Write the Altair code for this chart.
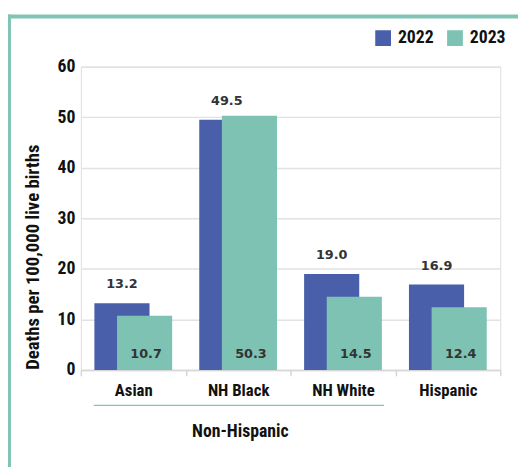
import altair as alt
import pandas as pd

categories = ["Asian", "NH Black", "NH White", "Hispanic"]
years = ["2022", "2023"]
values_2022 = [13.2, 49.5, 19.0, 16.9]
values_2023 = [10.7, 50.3, 14.5, 12.4]
y_ticks = [0, 10, 20, 30, 40, 50, 60]
colors = ["#4a5fa9", "#7dc2b2"]
frame_color = "#80c4b6"
group_label = "Non-Hispanic"
y_title = "Deaths per 100,000 live births"

rows = []
for c, a, b in zip(categories, values_2022, values_2023):
    rows.append({"category": c, "year": "2022", "value": a, "label": f"{a:.1f}"})
    rows.append({"category": c, "year": "2023", "value": b, "label": f"{b:.1f}"})
df = pd.DataFrame(rows)
one = pd.DataFrame({"t": [group_label]})

FC = "Roboto Condensed"
VAL_FONT = "DejaVu Sans"

x_enc = alt.X("category:N", sort=categories,
              scale=alt.Scale(paddingInner=0, paddingOuter=0),
              axis=alt.Axis(title=None, labelAngle=0, labelFont=FC, labelFontSize=17,
                            labelFontWeight="bold", labelColor="#111", labelPadding=7,
                            tickBand="extent", tickColor="#d6d6d6", tickSize=6, tickWidth=1.5,
                            domainColor="#d6d6d6", domainWidth=1.5))
y_enc = alt.Y("value:Q", scale=alt.Scale(domain=[0, 60], nice=False),
              axis=alt.Axis(values=y_ticks, title=y_title, titleFont=FC, titleFontSize=19,
                            titleFontWeight="bold", titleColor="#111", titlePadding=15,
                            titleY=193,
                            labelFont=FC, labelFontSize=18, labelFontWeight="bold",
                            labelColor="#111", labelPadding=6, ticks=False, domain=False,
                            grid=True, gridColor="#e2e2e2", gridWidth=1.5))
color_enc = alt.Color("year:N", scale=alt.Scale(domain=years, range=colors),
                      legend=alt.Legend(title=None, orient="none", legendX=298, legendY=-38,
                                        direction="horizontal", symbolType="square",
                                        symbolSize=256, symbolStrokeWidth=0, symbolOpacity=1,
                                        labelFont=FC, labelFontSize=18, labelFontWeight="bold",
                                        labelColor="#111", labelOffset=6, columnPadding=12))

base = alt.Chart(df)
single = alt.Chart(one)

bars22 = base.transform_filter(alt.datum.year == "2022").mark_bar(
    xOffset=-11.5, width=56).encode(x=x_enc, y=y_enc, color=color_enc)
bars23 = base.transform_filter(alt.datum.year == "2023").mark_bar(
    xOffset=11.5, width=56).encode(x=x_enc, y=y_enc, color=color_enc)

lab22 = base.transform_filter(alt.datum.year == "2022").mark_text(
    xOffset=-11.5, dy=-19, baseline="middle", font=VAL_FONT, fontSize=13,
    fontWeight="bold", color="#333").encode(x=alt.X("category:N", sort=categories),
                                             y="value:Q", text="label:N")
lab23 = base.transform_filter(alt.datum.year == "2023").mark_text(
    xOffset=13, dy=-16, baseline="middle", font=VAL_FONT, fontSize=13,
    fontWeight="bold", color="#333").encode(x=alt.X("category:N", sort=categories),
                                             y=alt.datum(0), text="label:N")

bracket = single.mark_rule(color=frame_color, strokeWidth=1.5).encode(
    x=alt.value(13), x2=alt.value(308), y=alt.value(344))
group_text = single.mark_text(font=FC, fontSize=18, fontWeight="bold", color="#111",
                              baseline="middle").encode(
    x=alt.value(162), y=alt.value(371), text="t:N")

frame_top = single.mark_rule(color=frame_color, strokeWidth=4).encode(
    x=alt.value(-79), x2=alt.value(460), y=alt.value(-51))
frame_left = single.mark_rule(color=frame_color, strokeWidth=4).encode(
    x=alt.value(-73), y=alt.value(-53), y2=alt.value(420))

chart = alt.layer(bars22, bars23, lab22, lab23, bracket, group_text, frame_top, frame_left).properties(
    width=426, height=308,
    autosize=alt.AutoSizeParams(type="none"),
    padding={"left": 74, "top": 56, "right": 18, "bottom": 95},
).configure_view(stroke=None).configure(background="white")

chart.save("out.html", embed_options={"renderer": "svg", "actions": False})
